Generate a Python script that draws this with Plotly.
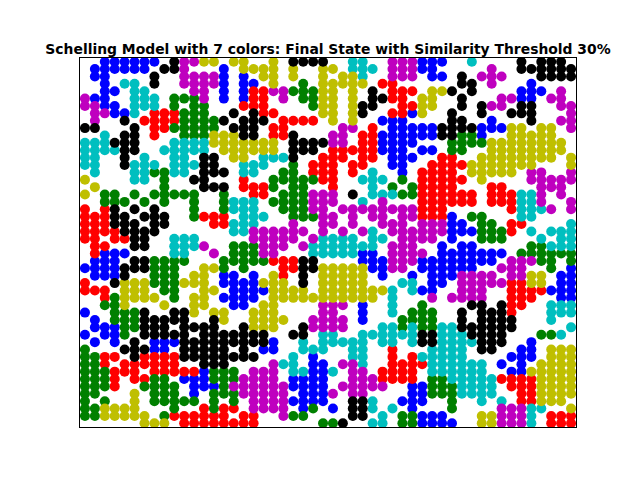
import plotly.graph_objects as go

# Grid of agents, top row first.
# B=blue R=red G=green C=cyan M=magenta Y=yellow K=black .=empty
left_band = [
    "..BBBBBB.KMMYY.YY", ".BBBBBB.KKM...B.Y", ".BB....K..MMMMB.B", "..B.CC.K..MMMMB.B",
    "..BB.CC....MM.B.B", "MBB..CCC.GGGM.B.B", "MMBB.CCC.G.GG...R", ".MMBBC.RRRGGG..K.",
    ".M..K.RRRRGGGGK.K", "KK...K.RRGGGGG.KK", "..C.KK.R..GGGYYYK", "CCCKKK...CCCCYYYY",
    "CCCCKK..CCCCC.YYY", "CC..K.C..CC.KK.YY", "CC..KCCC.CCCKK..C", ".C...CCGGCC.KKK.C",
    "Y....CC.G..KK...R",
    ".Y......G...KKK.R", "Y.GG.G.GGGGG..G..", "..GGG.G.G..G..GCC", "R.RK.K.K...G..GCC",
    "RRRKK.KKK..GRRR.C", "RRRKKK.KK....RRCC", "RRRRKKKK.......CC", "RR.RRKK..CCC.....",
    ".RR..KK..CCCM..GG", ".RBBB....CC..M.GG", ".BBB.KKGGGG...GGG", "BBBBKKKGGG..YYG.G",
    ".BBBK..GGG.YY.BB.", "R..KYYYGGGYYY.BBB", "RRR.YYY.GG..YY.BB", "..RGYYYY.G.YY.BBB",
    "..GGY...Y..YY..BB",
    "B..GGGK..KKY.YY..", ".B.GGGKKKKK..KY..", ".BBBGGKKK.KKKK..K", "B.BBG.KKKKK.KKKKK",
    ".B.B.K.BBBKKKKKKK", "G...KKKBB.KKKKK.K", "GGRR.KRRRRKKKKKKK", "GGR.RRRRRR..KKK..",
    "GGGRRR.RRRRRBGGG.", "GGGR.RRGG.BBBGGGM", "GGGR..GGGG.BBBGMM", "GG...Y.GGG.B.GGGM",
    "G.G..Y.GGGGG.G.G.", "GGYYYY...G..RGRR.", "GGYYYYY.GRRRRRR.R", "......YYY.RRRRRRR",
]
middle_band = [
    "..Y.KKKK..CC..MMM", "YYY.Y..YY.CCC.MMM", ".YY.Y..Y.YYC..MMM", "B.Y..G.YYYYY.RR..",
    "RRMMGGGYY.Y.K.RRR", "RR.M.GGYY.Y.KKRR.", "RR....GYY.YKK..RR", "KRR....YY.YK..RRB",
    "KK.RRRR.Y.Y..BBB.", "K.RR.....MM.R.BBB", "K.RRK...MM.RRBBBB", "YYY.KKKKMM.RRBBBB",
    "YYY.KKK.RRRRRBBB.", ".CCCK..RRR.RR.BBB", "CC..G.RRR.RR..BB.", "C..GG.RRR.R.C..B.",
    "..GGGGGRR..CCC.G.",
    "RRG.GG..R...C.G.G", "RR.GGGMMM.K.CCCGG", "C.GGGGMMM..C.M...", "C..GGGMM.MMMMMMMM",
    "CC..GGGMM.M.MM.MM", "C...M..MM.M..MMM.", "MMMMMM.M.M.MC.MMM", "MMMMM.MCCCC.CC.MM",
    "GMMM.MCCCCCCC.MMM", "GMM...CCCCCBB.MMM", "GGRRRKK....BBBMMM", "...RRKKYYYYYBBMM.",
    "B.YR.K.YYYYY.B..B", "BYYY.K.YYYYY...CC", "BBYYYY.YYYYYYYC.C", "B.YYYYYYYYYYY.C..",
    ".YY....MMM.B..C..",
    "YYY....MM..B..C.G", "YYYY..MMMM.B...GG", "YYY..KMMMM...CCGC", "KK..KK.CC..CCCCCC",
    "KKB..C.CCCCC.CC.C", ".BB..CCC..CC..R..", "K...C.B...CC..R.R", "..MCC.BB.MMC..RRR",
    "MMM.CCBBC.MM.RRRR", "MMM.BBBB..MMMRRRR", "MMMMBBBB.MMMMM..B", "MMMM.BBBM.MM....B",
    "MMMMBBBB..KKC..BB", "MMMM.BG.B.KKC.C.B", "R..MGG....KK.C.GG", "R......GGK..CC.GG",
]
right_band = [
    "BBB..C....K.KKK.", "BB.....M..KKKKKK", ".BB.K.MMM...KKKK", "....KK.M...B....",
    ".YYK.K....BBB.M.", "YY..K...MMBB.MM.", "YY..K.KMM.KK..MM", "Y..K..K..KKK...M",
    "...KK..B...K..MM", "BBKKKKBBBYY.YY.M", "BBKKGGB..YYYYY..", "...GGGGYYYYYYYY.",
    "BB.GG..YYYYYYYY.", "..RR..YYYYYYYY.Y", ".RRRRYYYYYYY...Y", "RRRR.YYYYY.MM..M",
    "RRRRR.Y....MMMMM",
    "RRRR...RR...MMM.", "RRRRRR.RRRCCM.M.", "RRRRRR.RRRCCM..M", "RRR......RCCCM.M",
    "RRRB.GG...CC....", "MMMBB.GG.RR....C", "MMMBBBGGGR.C.CCC", "MM.B..GGG...C.CC",
    "..B.BB.....GGCCC", "M.BBBBBBB.GGGGGG", "BBBBBBBB.MMMGG.G", "BBBBBB..MMM..G.B",
    ".BBBMMMM.MMYY.BB", ".BB.MMMMMRRYY.BB", "BB..MMM..RRRRBBB", ".M.MMMM..RRR..BB",
    "G....KK.KRR..CCC",
    "GG..K.KKKR...CCC", "GG..K.KKKK...C..", "GGCCKKKKKK.....C", "KKCCCKKKK...GGC.",
    "KKCCCCKKK..B....", ".CCCC.KK..BB.YYY", "CCCCC....BBB.YYY", "RCCCCCC.B.B.YYYY",
    ".CCCCCC..BBYYYYY", ".GGCCCCCRRRRYYYY", "BGGGCCCC.RRRYYYY", "BGGGCCCC..RRYYYY",
    "B..G..C.C.RRYYY.", "...G....MMMCC..Y", "BBB...YYMMMC.RRR", "BBBB..YYMMMC.RRR",
]
band_widths = [17, 17, 16]
color_codes = ["B", "R", "G", "C", "M", "Y", "K"]
color_values = ["#0000ff", "#ff0000", "#008000", "#00bfbf", "#bf00bf", "#bfbf00", "#000000"]
title_text = "Schelling Model with 7 colors: Final State with Similarity Threshold 30%"

n_rows = len(left_band)
rows = []
for a, b, c in zip(left_band, middle_band, right_band):
    parts = []
    for s, w in zip((a, b, c), band_widths):
        parts.append((s + "." * w)[:w])
    rows.append("".join(parts))

fig = go.Figure()
for code, col in zip(color_codes, color_values):
    xs, ys = [], []
    for r, row in enumerate(rows):
        for c, ch in enumerate(row):
            if ch == code:
                xs.append(c)
                ys.append(n_rows - 1 - r)
    fig.add_trace(go.Scatter(x=xs, y=ys, mode="markers",
                             marker=dict(color=col, size=10, line=dict(width=0)),
                             showlegend=False, hoverinfo="skip"))

# the page body adds an 8px offset, so the figure is 8px smaller and shifted
fig.update_layout(
    width=632, height=472,
    margin=dict(l=72, r=64, t=49.6, b=52.8, pad=0),
    paper_bgcolor="white", plot_bgcolor="white",
    title=dict(text="<b>" + title_text + "</b>", x=320 / 632, xanchor="center",
               yref="container", y=1 - 46 / 472, yanchor="bottom",
               font=dict(family="DejaVu Sans", size=13.9, color="black")),
)
axis_style = dict(showgrid=False, zeroline=False, showticklabels=False, ticks="",
                  showline=True, mirror=True, linecolor="black", linewidth=1)
fig.update_xaxes(range=[-0.5, 49.5], **axis_style)
fig.update_yaxes(range=[-0.5, 49.5], **axis_style)

fig.write_html("out.html")
